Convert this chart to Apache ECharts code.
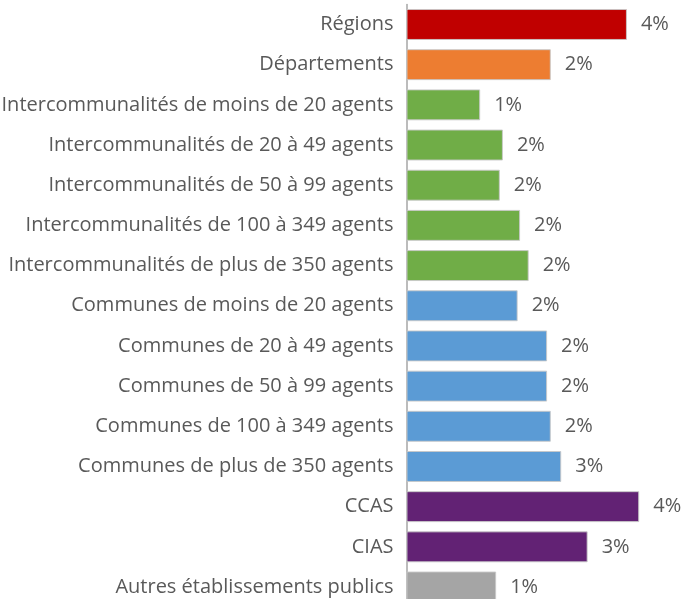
<!DOCTYPE html>
<html>
<head>
<meta charset="utf-8">
<script src="https://cdn.jsdelivr.net/npm/echarts@6/dist/echarts.min.js"></script>
<style>
  html, body { margin: 0; padding: 0; background: #ffffff; }
  #chart { width: 687px; height: 599px; }
</style>
</head>
<body>
<div id="chart"></div>
<script>
// Category labels, top to bottom
const categories = [
  'Régions',
  'Départements',
  'Intercommunalités de moins de 20 agents',
  'Intercommunalités de 20 à 49 agents',
  'Intercommunalités de 50 à 99 agents',
  'Intercommunalités de 100 à 349 agents',
  'Intercommunalités de plus de 350 agents',
  'Communes de moins de 20 agents',
  'Communes de 20 à 49 agents',
  'Communes de 50 à 99 agents',
  'Communes de 100 à 349 agents',
  'Communes de plus de 350 agents',
  'CCAS',
  'CIAS',
  'Autres établissements publics'
];

// Share (in %) for each category
const values = [3.59, 2.35, 1.20, 1.57, 1.52, 1.85, 1.99, 1.81, 2.29, 2.29, 2.35, 2.52, 3.79, 2.95, 1.46];

// Fill colour per category group
const colors = [
  '#C00000', '#ED7D31',
  '#70AD47', '#70AD47', '#70AD47', '#70AD47', '#70AD47',
  '#5B9BD5', '#5B9BD5', '#5B9BD5', '#5B9BD5', '#5B9BD5',
  '#622274', '#622274',
  '#A5A5A5'
];

const FONT = '"Open Sans", "Liberation Sans", sans-serif';
const TEXT = '#595959';

const chart = echarts.init(document.getElementById('chart'), null, { renderer: 'canvas' });

chart.setOption({
  animation: false,
  backgroundColor: '#ffffff',
  grid: {
    left: 406.5, top: 4.4, width: 276.3, height: 602.7,
    containLabel: false,
    outerBoundsMode: 'none'
  },
  xAxis: {
    type: 'value',
    min: 0,
    max: 4.5,
    show: false
  },
  yAxis: {
    type: 'category',
    inverse: true,
    data: categories,
    axisLine: { show: true, lineStyle: { color: '#A6A6A6', width: 1.5 } },
    axisTick: { show: false },
    axisLabel: {
      color: TEXT,
      fontFamily: FONT,
      fontSize: 20,
      margin: 13
    },
    splitLine: { show: false }
  },
  series: [{
    type: 'bar',
    data: values.map((v, i) => ({ value: v, itemStyle: { color: colors[i] } })),
    barCategoryGap: '23%',
    itemStyle: { borderColor: 'rgba(200,200,200,0.9)', borderWidth: 1 },
    label: {
      show: true,
      position: 'right',
      distance: 14,
      color: TEXT,
      fontFamily: FONT,
      fontSize: 20,
      formatter: p => Math.round(p.value) + '%'
    }
  }]
});
</script>
</body>
</html>
